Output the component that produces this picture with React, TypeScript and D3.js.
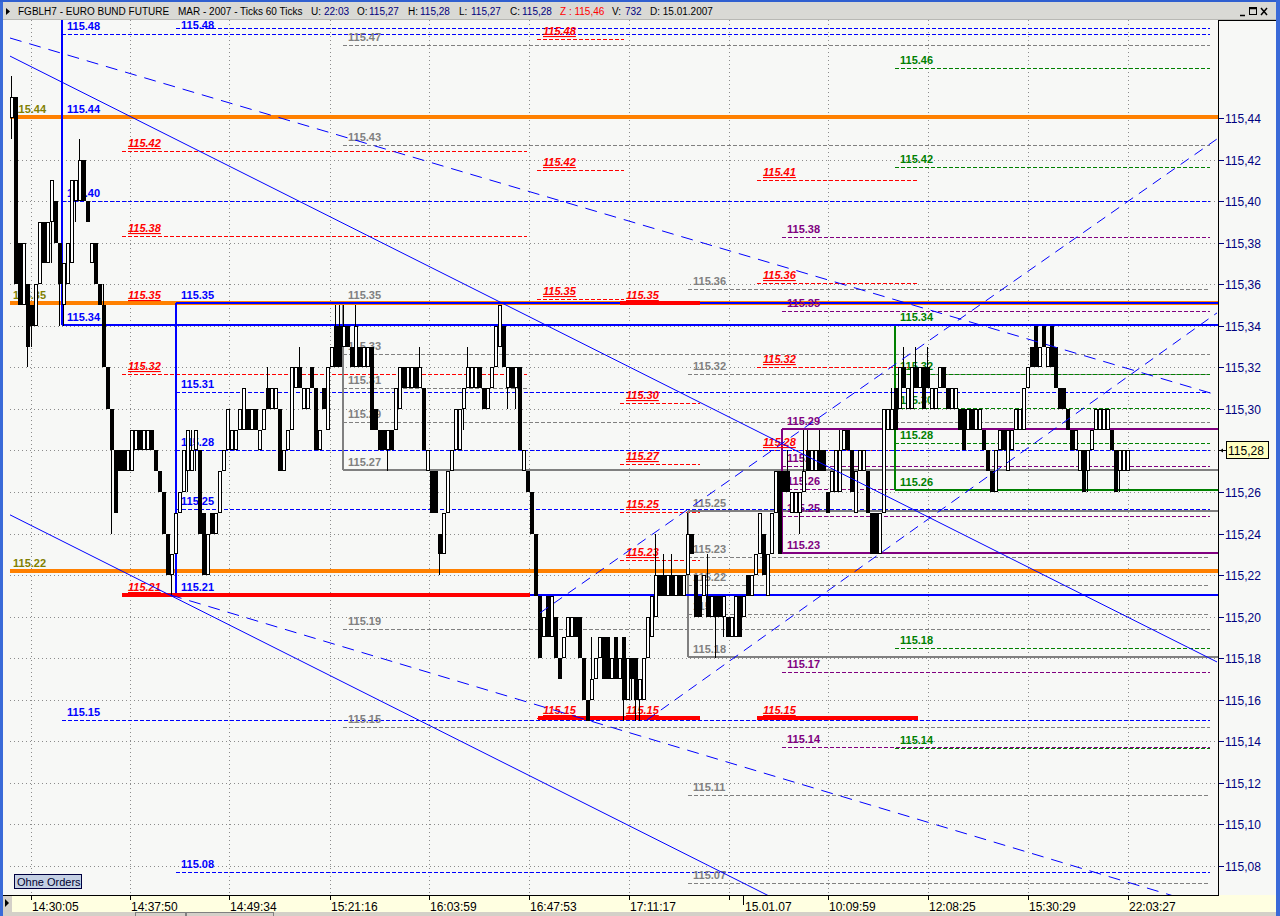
import React from "react";
import * as d3 from "d3";

const FONT = "'Liberation Sans', Arial, Helvetica, sans-serif";

// Price bars in hundredths above 115.00: [open, high, low, close]
const barsOpening = [
  [44,46,43,45],[45,45,36,36],[38,38,35,35],[35,38,35,38],[36,36,32,33],[35,35,33,34],[34,36,34,36],[36,39,36,39],
  [39,39,37,37],[37,39,37,39],[39,41,37,41],[40,40,38,38],[38,38,34,36],[35,37,34,37],[36,38,36,38],[37,41,37,41],
  [40,41,39,41],[40,43,40,42],[42,42,40,40],[40,40,39,39],[37,38,37,38],[38,38,36,36],[36,36,35,35],[35,36,32,32],
];
const barsAfternoon = [
  [32,32,30,30],[30,30,24,28],[28,28,25,25],[28,28,27,27],[28,28,27,27],[27,28,27,28],[27,29,27,29],[28,29,28,29],
  [29,29,28,28],[28,29,28,29],[28,29,28,29],[29,29,28,28],[28,28,27,27],[27,27,26,26],[26,26,24,24],[24,24,22,22],
  [22,23,21,23],[23,25,23,25],[25,26,25,26],[26,28,26,28],[27,29,26,29],[27,29,27,28],[28,29,27,29],[28,28,24,24],
  [25,25,22,22],[22,24,22,24],[25,25,24,24],[24,25,24,25],[25,27,25,27],[27,28,27,28],[28,30,28,30],[28,29,28,29],
  [28,29,28,29],[29,30,29,30],[29,31,29,31],[30,30,29,29],[29,30,29,30],[30,30,29,29],[28,29,28,29],[29,30,29,30],
  [31,32,30,30],[30,31,30,31],[30,31,30,31],[30,30,27,27],[27,28,27,28],[28,29,28,29],[29,32,29,32],[31,32,31,32],
  [32,33,31,31],[30,31,30,31],[30,31,30,31],[32,32,31,31],[31,31,28,28],[28,29,28,29],[31,31,30,30],[29,32,29,32],
];
const barsEvening = [
  [32,33,32,33],[34,35,32,32],[34,35,32,32],[33,35,33,34],[34,34,33,33],[33,33,32,32],[32,35,32,34],[33,33,32,32],
  [32,33,32,33],[32,33,32,33],[33,33,29,29],[30,30,29,29],[29,29,28,28],[29,29,28,28],[28,29,27,29],[29,29,28,28],
  [29,31,29,31],[30,32,30,32],[32,32,31,31],[31,32,31,32],[31,32,31,32],[32,32,31,31],[31,33,31,32],[31,31,28,28],
  [27,28,27,28],[27,27,25,25],[27,27,25,25],[24,24,22,23],[23,25,23,25],[25,27,25,27],[27,28,27,28],[28,30,28,30],
  [28,30,28,30],[30,31,29,31],[31,33,31,32],[31,32,31,32],[31,32,31,32],[32,32,31,31],[31,31,30,30],[30,31,30,31],
  [31,32,31,32],[32,34,32,34],[33,35,33,35],[34,34,32,32],[31,32,30,32],[32,32,31,31],[31,32,30,32],[32,32,28,28],
  [27,28,27,28],[27,27,26,26],[26,26,24,24],
];
const barsLate = [
  [24,24,21,21],[21,21,18,18],[19,20,19,20],[21,21,19,19],[19,21,19,21],[20,20,18,18],[18,18,17,17],[18,19,18,19],
  [19,20,19,20],[19,20,19,20],[20,20,19,19],[20,20,18,18],[18,18,16,16],[16,16,15,15],[16,19,16,17],[17,18,17,18],
  [18,19,18,19],[19,19,17,17],[19,19,17,17],[17,18,17,18],[19,19,17,17],[17,18,17,18],[19,19,15,16],[16,18,16,18],
  [18,18,16,17],[18,18,15,16],[16,17,15,17],[16,18,16,18],[18,20,18,20],[19,21,19,21],[20,24,20,22],[22,22,21,21],
  [22,23,21,21],[21,22,21,22],[22,23,21,21],[21,22,21,22],[22,22,21,21],[21,22,21,22],[22,25,22,24],[24,24,23,23],
  [22,22,20,20],[21,21,20,20],[21,22,21,22],[21,23,20,20],[20,21,20,21],[21,21,18,20],[21,21,20,20],[20,21,19,21],
  [20,20,19,19],[19,20,19,20],[19,21,19,21],[21,21,19,19],[20,21,20,21],[22,22,21,21],[21,22,21,22],[22,23,22,23],
  [23,25,23,25],[24,24,22,22],[21,23,21,23],[23,25,23,25],[25,27,25,27],[27,27,23,23],
];
const barsNextDay = [
  [27,27,26,26],[27,28,26,26],[25,26,25,26],[25,26,25,26],[25,26,24,26],[26,29,26,27],[28,29,27,27],[27,28,27,28],
  [27,28,27,28],[28,29,27,27],[28,28,27,27],[26,26,25,25],[26,27,26,27],[26,28,26,28],[26,29,26,28],[28,29,28,29],
  [29,29,28,28],[28,28,26,26],[25,27,25,27],[27,28,27,28],[27,28,27,28],[27,27,25,25],[25,25,23,23],[25,25,23,23],
  [23,25,23,25],[25,30,25,30],[29,30,29,30],[29,31,29,30],[31,31,29,29],[30,32,30,32],[32,33,31,31],[30,31,30,31],
  [30,32,30,32],[32,33,31,31],[31,32,31,32],[32,32,30,30],[32,33,31,31],[30,31,30,31],[30,31,30,31],[31,32,31,32],
  [32,32,31,31],[31,31,30,30],[30,31,30,31],[30,31,30,31],[30,30,29,29],[30,30,28,28],[29,30,29,30],[30,30,29,29],
  [29,30,29,30],[29,30,29,30],[29,29,28,28],[28,28,27,27],[27,27,26,26],[26,28,26,28],[28,29,28,29],[29,29,28,28],
  [27,29,27,29],[28,29,28,29],[29,30,29,30],[29,30,29,30],[29,31,29,31],[31,32,31,32],[33,33,32,32],[34,34,32,32],
  [32,33,32,33],[34,34,33,33],[32,33,32,33],[34,34,32,32],[33,33,31,31],[31,31,30,30],[31,31,30,30],[30,30,29,29],
  [29,29,28,28],[28,29,28,29],[27,28,27,28],[28,28,26,26],[27,28,26,28],[28,29,28,29],[29,30,29,30],[29,30,29,30],
  [29,30,29,30],[29,30,29,30],[29,29,28,28],[28,28,26,26],[27,28,26,28],[27,28,27,28],[27,28,27,28],
];

const priceTicks = [115.08,115.10,115.12,115.14,115.16,115.18,115.20,115.22,115.24,115.26,115.28,115.30,115.32,115.34,115.36,115.38,115.40,115.42,115.44];
const timeTickIndex = [4.75, 29.5, 54.25, 79.5, 104.25, 129.25, 154.25, 179.25, 204, 229, 254, 279];
const timeTickLabels = ["14:30:05","14:37:50","14:49:34","15:21:16","16:03:59","16:47:53","17:11:17","","10:09:59","12:08:25","15:30:29","22:03:27"];
const dateTickIndex = 182.75;
const dateTickLabel = "15.01.07";
const lastPrice = 115.28;

type Level = { v: number; label: string; from: number; to: number };
const DE = 299.5; // dashed end (bar index)
const SE = 301.5; // solid end

// blue pivot levels
const blueDashed: Level[] = [
  { v: 115.4833, label: "115.48", from: 41, to: DE },
  { v: 115.4804, label: "115.48", from: 12.5, to: DE },
  { v: 115.4405, label: "115.44", from: 12.5, to: DE },
  { v: 115.4000, label: "115.40", from: 12.5, to: DE },
  { v: 115.3081, label: "115.31", from: 41, to: DE },
  { v: 115.2802, label: "115.28", from: 41, to: DE },
  { v: 115.2518, label: "115.25", from: 41, to: DE },
  { v: 115.1503, label: "115.15", from: 12.5, to: DE },
  { v: 115.0772, label: "115.08", from: 41, to: DE },
];
const blueSolid: Level[] = [
  { v: 115.3404, label: "115.34", from: 12.5, to: SE },
  { v: 115.3510, label: "115.35", from: 41, to: SE },
  { v: 115.2105, label: "115.21", from: 41, to: SE },
];
const blueVerticals = [
  { at: 12.5, v1: 115.4875, v2: 115.3404 },
  { at: 41, v1: 115.3510, v2: 115.2105 },
];
// orange thick levels
const orangeLevels: Level[] = [
  { v: 115.4405, label: "115.44", from: -0.5, to: SE },
  { v: 115.3510, label: "115.35", from: -0.5, to: SE },
  { v: 115.2220, label: "115.22", from: -0.5, to: SE },
];
// red thick segments
const redThick = [
  { v: 115.2105, from: 27.5, to: 129.5 },
  { v: 115.3510, from: 152, to: 172 },
  { v: 115.1512, from: 131.5, to: 172 },
  { v: 115.1512, from: 186.25, to: 226.5 },
];
// red dashed projections
const redDashed: Level[] = [
  { v: 115.4241, label: "115.42", from: 27.5, to: 128.75 },
  { v: 115.3832, label: "115.38", from: 27.5, to: 128.75 },
  { v: 115.3510, label: "115.35", from: 27.5, to: 128.75 },
  { v: 115.3168, label: "115.32", from: 27.5, to: 128.75 },
  { v: 115.2105, label: "115.21", from: 27.5, to: 128.75 },
  { v: 115.4780, label: "115.48", from: 131.25, to: 153 },
  { v: 115.4150, label: "115.42", from: 131.25, to: 153 },
  { v: 115.3529, label: "115.35", from: 131.25, to: 153 },
  { v: 115.1512, label: "115.15", from: 131.25, to: 153 },
  { v: 115.3510, label: "115.35", from: 152, to: 172 },
  { v: 115.3028, label: "115.30", from: 152, to: 172 },
  { v: 115.2735, label: "115.27", from: 152, to: 172 },
  { v: 115.2504, label: "115.25", from: 152, to: 172 },
  { v: 115.2273, label: "115.23", from: 152, to: 172 },
  { v: 115.1512, label: "115.15", from: 152, to: 172 },
  { v: 115.4102, label: "115.41", from: 186.25, to: 226.5 },
  { v: 115.3606, label: "115.36", from: 186.25, to: 226.5 },
  { v: 115.3202, label: "115.32", from: 186.25, to: 226.5 },
  { v: 115.2802, label: "115.28", from: 186.25, to: 226.5 },
  { v: 115.1512, label: "115.15", from: 186.25, to: 226.5 },
];
// gray levels
const grayDashed: Level[] = [
  { v: 115.4751, label: "115.47", from: 82.75, to: DE },
  { v: 115.4270, label: "115.43", from: 82.75, to: DE },
  { v: 115.3510, label: "115.35", from: 82.75, to: DE },
  { v: 115.3264, label: "115.33", from: 82.75, to: DE },
  { v: 115.3100, label: "115.31", from: 82.75, to: 128.75 },
  { v: 115.2937, label: "115.29", from: 82.75, to: DE },
  { v: 115.1940, label: "115.19", from: 82.75, to: DE },
  { v: 115.1469, label: "115.15", from: 82.75, to: DE },
  { v: 115.3577, label: "115.36", from: 169, to: DE },
  { v: 115.3168, label: "115.32", from: 169, to: DE },
  { v: 115.2287, label: "115.23", from: 169, to: DE },
  { v: 115.2153, label: "115.22", from: 169, to: DE },
  { v: 115.2013, label: "115.20", from: 169, to: DE },
  { v: 115.1142, label: "115.11", from: 169, to: DE },
  { v: 115.0719, label: "115.07", from: 169, to: DE },
];
const graySolid: Level[] = [
  { v: 115.2706, label: "115.27", from: 82.75, to: SE },
  { v: 115.2509, label: "115.25", from: 169, to: SE },
  { v: 115.1806, label: "115.18", from: 169, to: SE },
];
const grayVerticals = [
  { at: 82.75, v1: 115.3510, v2: 115.2706 },
  { at: 169, v1: 115.2509, v2: 115.1806 },
];
// purple levels
const purpleDashed: Level[] = [
  { v: 115.3827, label: "115.38", from: 192.5, to: DE },
  { v: 115.3471, label: "115.35", from: 192.5, to: DE },
  { v: 115.2725, label: "115.27", from: 192.5, to: DE },
  { v: 115.2615, label: "115.26", from: 192.5, to: DE },
  { v: 115.2485, label: "115.25", from: 192.5, to: DE },
  { v: 115.1734, label: "115.17", from: 192.5, to: DE },
  { v: 115.1373, label: "115.14", from: 192.5, to: DE },
];
const purpleSolid: Level[] = [
  { v: 115.2903, label: "115.29", from: 192.5, to: SE },
  { v: 115.2307, label: "115.23", from: 192.5, to: SE },
];
const purpleVerticals = [{ at: 192.5, v1: 115.2903, v2: 115.2307 }];
// green levels
const greenDashed: Level[] = [
  { v: 115.4641, label: "115.46", from: 220.75, to: DE },
  { v: 115.4164, label: "115.42", from: 220.75, to: DE },
  { v: 115.3404, label: "115.34", from: 220.75, to: 220.75 },
  { v: 115.3168, label: "115.32", from: 220.75, to: DE },
  { v: 115.3004, label: "115.30", from: 220.75, to: DE },
  { v: 115.2836, label: "115.28", from: 220.75, to: DE },
  { v: 115.1849, label: "115.18", from: 220.75, to: DE },
  { v: 115.1368, label: "115.14", from: 220.75, to: DE },
];
const greenSolid: Level[] = [{ v: 115.2610, label: "115.26", from: 220.75, to: SE }];
const greenVerticals = [{ at: 220.75, v1: 115.3404, v2: 115.2610 }];

// trend lines: [[index, price], [index, price]]
const trendSolid = [
  [[-0.5, 115.4698], [301.25, 115.1782]],
  [[-0.5, 115.2490], [301.25, 114.9573]],
];
const trendDashedDown = [
  [[-0.5, 115.4785], [301.25, 115.3067]],
  [[39.5, 115.2105], [301.25, 115.0593]],
];
const trendDashedUp = [
  [[132, 115.2018], [301.25, 115.4299]],
  [[158.75, 115.1503], [301.25, 115.3462]],
];

const headerParts = [
  { x: 18, t: "FGBLH7 - EURO BUND FUTURE", c: "#000" },
  { x: 178, t: "MAR - 2007 - Ticks 60 Ticks", c: "#000" },
  { x: 311, t: "U:", c: "#000" }, { x: 324, t: "22:03", c: "#000080" },
  { x: 357, t: "O:", c: "#000" }, { x: 369, t: "115,27", c: "#000080" },
  { x: 408, t: "H:", c: "#000" }, { x: 420, t: "115,28", c: "#000080" },
  { x: 459, t: "L:", c: "#000" }, { x: 471, t: "115,27", c: "#000080" },
  { x: 510, t: "C:", c: "#000" }, { x: 522, t: "115,28", c: "#000080" },
  { x: 560, t: "Z : 115,46", c: "#ff0000" },
  { x: 612, t: "V:", c: "#000" }, { x: 625, t: "732", c: "#000080" },
  { x: 650, t: "D: 15.01.2007", c: "#000" },
];

export default function App() {
  const bars = [...barsOpening, ...barsAfternoon, ...barsEvening, ...barsLate, ...barsNextDay];
  const x = d3.scaleLinear().domain([0, 279]).range([12, 1128]);
  const y = d3.scaleLinear().domain([115.08, 115.44]).range([866, 118]);
  const px = (i: number) => Math.round(x(i));
  const py = (v: number) => Math.round(y(v));
  const cp = (c: number) => 115 + c / 100;

  const PL = 4, PR = 1218, PT = 20, PB = 895;
  const BG = "#f7f8f6";

  const dashed = (lv: Level[], color: string, k: string) =>
    lv.filter(l => l.to > l.from).map((l, i) => (
      <line key={k + i} x1={px(l.from)} x2={px(l.to)} y1={py(l.v) + 0.5} y2={py(l.v) + 0.5}
        stroke={color} strokeWidth={1} strokeDasharray="4,2" />
    ));
  const solid = (lv: Level[], color: string, w: number, k: string) =>
    lv.map((l, i) => (
      <line key={k + i} x1={px(l.from)} x2={px(l.to)} y1={py(l.v) + (w % 2 ? 0.5 : 0)} y2={py(l.v) + (w % 2 ? 0.5 : 0)}
        stroke={color} strokeWidth={w} />
    ));
  const verticals = (vs: { at: number; v1: number; v2: number }[], color: string, w: number, k: string) =>
    vs.map((s, i) => (
      <line key={k + i} x1={px(s.at)} x2={px(s.at)} y1={py(s.v1)} y2={py(s.v2)} stroke={color} strokeWidth={w} />
    ));
  const labels = (lv: Level[], color: string, k: string, italic = false, dx = 5) =>
    lv.map((l, i) => (
      <text key={k + i} x={px(l.from) + dx} y={Math.max(py(l.v) - 4, PT + 9)} fill={color} fontFamily={FONT} fontSize={11}
        fontWeight={700} fontStyle={italic ? "italic" : "normal"} textDecoration={italic ? "underline" : "none"}>
        {l.label}
      </text>
    ));
  const trend = (ls: number[][][], dash: string | undefined, k: string) =>
    ls.map((s, i) => (
      <line key={k + i} x1={x(s[0][0])} y1={y(s[0][1])} x2={x(s[1][0])} y2={y(s[1][1])}
        stroke="#0000ff" strokeWidth={1} strokeDasharray={dash} />
    ));

  return (
    <div style={{ position: "absolute", left: 0, top: 0 }}>
      <svg width={1280} height={916} style={{ display: "block" }}>
        <defs>
          <clipPath id="plot"><rect x={PL} y={PT} width={PR - PL} height={PB - PT} /></clipPath>
        </defs>
        <rect x={0} y={0} width={1280} height={916} fill={BG} />
        <g clipPath="url(#plot)">
          {/* grid */}
          {priceTicks.map((t, i) => (
            <line key={"hg" + i} x1={10} x2={PR} y1={py(t) + 0.5} y2={py(t) + 0.5} stroke="#8c8c8c" strokeDasharray="1,3" />
          ))}
          {timeTickIndex.map((t, i) => (
            <line key={"vg" + i} x1={px(t) + 0.5} x2={px(t) + 0.5} y1={PT} y2={PB} stroke="#8c8c8c" strokeDasharray="1,3" />
          ))}
          {/* level lines */}
          {dashed(grayDashed, "#808080", "gd")}
          {dashed(purpleDashed, "#800080", "pd")}
          {dashed(greenDashed, "#008000", "ngd")}
          {dashed(redDashed, "#ff0000", "rd")}
          {dashed(blueDashed, "#0000ff", "bd")}
          {solid(graySolid, "#808080", 2, "gs")}
          {verticals(grayVerticals, "#808080", 2, "gv")}
          {solid(purpleSolid, "#800080", 2, "ps")}
          {verticals(purpleVerticals, "#800080", 2, "pv")}
          {solid(greenSolid, "#008000", 2, "ns")}
          {verticals(greenVerticals, "#008000", 2, "nv")}
          {solid(orangeLevels, "#ff8000", 4, "or")}
          {solid(blueSolid, "#0000ff", 2, "bs")}
          {verticals(blueVerticals, "#0000ff", 2, "bv")}
          {redThick.map((r, i) => (
            <line key={"rt" + i} x1={px(r.from)} x2={px(r.to)} y1={py(r.v)} y2={py(r.v)} stroke="#ff0000" strokeWidth={4} />
          ))}
          {/* labels */}
          {labels(grayDashed, "#808080", "gl")}
          {labels(graySolid, "#808080", "gsl")}
          {labels(purpleDashed, "#800080", "pl")}
          {labels(purpleSolid, "#800080", "psl")}
          {labels(greenDashed, "#008000", "nl")}
          {labels(greenSolid, "#008000", "nsl")}
          {labels(redDashed, "#ff0000", "rl", true, 6)}
          {labels(blueDashed, "#0000ff", "bl")}
          {labels(blueSolid, "#0000ff", "bsl")}
          {labels(orangeLevels, "#808000", "ol", false, 3)}
          {/* candles */}
          {bars.map((b, i) => {
            const L = px(i) - 2;
            const yo = py(cp(b[0])), yh = py(cp(b[1])), yl = py(cp(b[2])), yc = py(cp(b[3]));
            const top = Math.min(yo, yc), bot = Math.max(yo, yc);
            const up = b[3] > b[0];
            return (
              <g key={"c" + i}>
                <line x1={L + 1.5} x2={L + 1.5} y1={yh} y2={yl} stroke="#000" strokeWidth={1} />
                {b[3] === b[0] ? (
                  <line x1={L} x2={L + 4} y1={yo + 0.5} y2={yo + 0.5} stroke="#000" />
                ) : up ? (
                  <rect x={L + 0.5} y={top + 0.5} width={3} height={Math.max(bot - top - 1, 1)} fill="#ffffff" stroke="#000" strokeWidth={1} />
                ) : (
                  <rect x={L} y={top} width={4} height={Math.max(bot - top, 1)} fill="#000" />
                )}
              </g>
            );
          })}
          {/* trend lines */}
          {trend(trendSolid, undefined, "ts")}
          {trend(trendDashedDown, "12,8", "tdd")}
          {trend(trendDashedUp, "10,7", "tdu")}
        </g>

        {/* frame: left border */}
        <rect x={0} y={0} width={3} height={916} fill="#3a6ad8" />
        {/* header */}
        <rect x={3} y={0} width={1277} height={20} fill="#d9d9d5" />
        <rect x={0} y={0} width={1280} height={2} fill="#2f5fd0" />
        <line x1={3} x2={1280} y1={19.5} y2={19.5} stroke="#b8b8b4" />
        <path d="M6,8 L10,11.5 L6,15 Z" fill="#000" />
        {headerParts.map((h, i) => (
          <text key={"h" + i} x={h.x} y={15} fill={h.c} fontFamily={FONT} fontSize={10}>{h.t}</text>
        ))}
        {/* window buttons */}
        <line x1={1240} x2={1245} y1={15.5} y2={15.5} stroke="#000" strokeWidth={1.5} />
        <rect x={1249.5} y={7.5} width={7} height={7} fill="none" stroke="#000" />
        <line x1={1249.5} x2={1256.5} y1={8.5} y2={8.5} stroke="#000" strokeWidth={1.5} />
        <path d="M1261,8 L1267,15 M1267,8 L1261,15" stroke="#000" strokeWidth={1.5} />

        {/* y-axis panel */}
        <rect x={1219} y={PT} width={57} height={PB - PT} fill={BG} />
        <line x1={1218.5} x2={1218.5} y1={PT} y2={912} stroke="#000" />
        <line x1={1219} x2={1276} y1={20.5} y2={20.5} stroke="#000" />
        {priceTicks.map((t, i) => (
          <g key={"yt" + i}>
            <line x1={1219} x2={1224} y1={py(t) + 0.5} y2={py(t) + 0.5} stroke="#000080" />
            {Math.abs(t - lastPrice) > 1e-6 && (
              <text x={1225} y={py(t) + 5} fill="#000080" fontFamily={FONT} fontSize={12}>
                {t.toFixed(2).replace(".", ",")}
              </text>
            )}
          </g>
        ))}
        <line x1={1219} x2={1226} y1={py(lastPrice) + 0.5} y2={py(lastPrice) + 0.5} stroke="#000" />
        <path d={`M1220,${py(lastPrice) + 0.5} l3,-2 v4 z`} fill="#000" />
        <rect x={1226.5} y={py(lastPrice) - 8.5} width={42} height={17} fill="#ffffc0" stroke="#000" />
        <text x={1228} y={py(lastPrice) + 5} fill="#000" fontFamily={FONT} fontSize={12}>
          {lastPrice.toFixed(2).replace(".", ",")}
        </text>
        <rect x={1276} y={0} width={4} height={916} fill="#3a6ad8" />

        {/* x-axis band */}
        <rect x={3} y={PB} width={1273} height={17} fill="#ffffe1" />
        <line x1={3} x2={1219} y1={PB + 0.5} y2={PB + 0.5} stroke="#000" />
        <rect x={3} y={896} width={9} height={16} fill="#d4d0c8" />
        <path d="M5,899 L9,903 L5,907 Z" fill="#000" />
        {timeTickIndex.map((t, i) => (
          <g key={"xt" + i}>
            <line x1={px(t) + 0.5} x2={px(t) + 0.5} y1={PB} y2={PB + 5} stroke="#000" />
            <text x={px(t) + 1} y={911} fill="#000" fontFamily={FONT} fontSize={12}>{timeTickLabels[i]}</text>
          </g>
        ))}
        <line x1={px(dateTickIndex) + 0.5} x2={px(dateTickIndex) + 0.5} y1={PB} y2={PB + 10} stroke="#000" />
        <text x={px(dateTickIndex) + 2} y={911} fill="#000" fontFamily={FONT} fontSize={12}>{dateTickLabel}</text>
        <rect x={3} y={912} width={1273} height={4} fill="#d4d0c8" />
        <rect x={135.5} y={912.5} width={50} height={4} fill="none" stroke="#808080" />
        <rect x={186.5} y={912.5} width={87} height={4} fill="none" stroke="#808080" />

        {/* Ohne Orders button */}
        <rect x={14.5} y={874.5} width={67} height={14} fill="#c4d0e4" stroke="#000040" />
        <text x={17} y={886} fill="#000030" fontFamily={FONT} fontSize={11}>Ohne Orders</text>
      </svg>
    </div>
  );
}
